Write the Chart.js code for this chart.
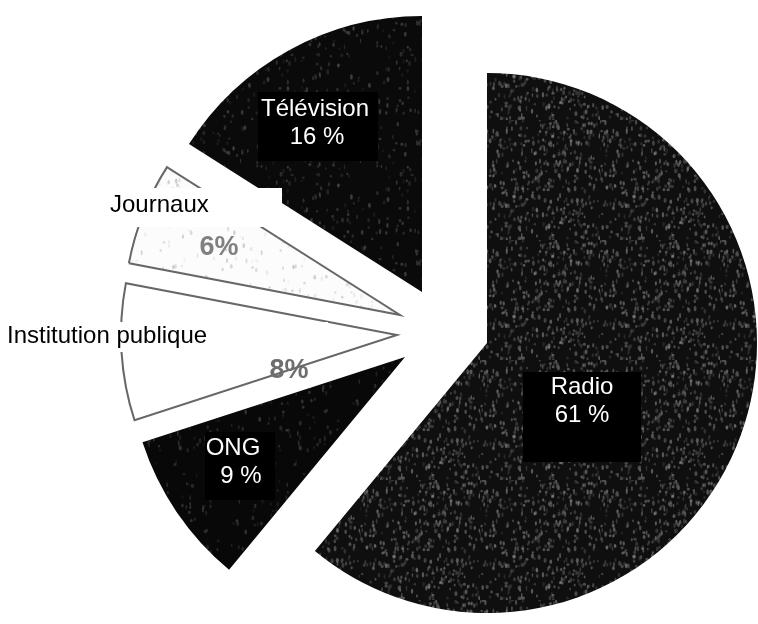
<!DOCTYPE html>
<html>
<head>
<meta charset="utf-8">
<script src="https://cdn.jsdelivr.net/npm/chart.js@4/dist/chart.umd.min.js"></script>
<style>
  html, body { margin: 0; padding: 0; background: #fff; }
  #wrap { width: 758px; height: 624px; }
</style>
</head>
<body>
<div id="wrap"><canvas id="myChart" width="758" height="624"></canvas></div>
<script>
// shares of each information source, clockwise from 12 o'clock
const categories = ["Radio", "ONG", "Institution publique", "Journaux", "Télévision"];
const shares = [61, 9, 8, 6, 16];

const ctx = document.getElementById("myChart");
const FONT = "'Liberation Sans', Arial, sans-serif";

// soft speckled fill so the slices look like the printed halftone
function grain(base, dot, count, seed, alphaMin, alphaMax) {
  const c = document.createElement("canvas");
  c.width = c.height = 120;
  const g = c.getContext("2d");
  g.fillStyle = base;
  g.fillRect(0, 0, 120, 120);
  g.filter = "blur(0.7px)";
  let s = seed;
  const next = () => (s = (s * 16807) % 2147483647) / 2147483647;
  for (let k = 0; k < count; k++) {
    const x = next() * 120;
    const y = next() * 120;
    const a = alphaMin + next() * (alphaMax - alphaMin);
    g.fillStyle = `rgba(${dot},${a.toFixed(2)})`;
    g.beginPath();
    g.ellipse(x, y, 0.8 + next() * 0.8, 1.2 + next() * 1.6, 0, 0, Math.PI * 2);
    g.fill();
  }
  return g.createPattern(c, "repeat");
}

const fills = [
  grain("#0f0f0f", "150,150,150", 480, 11, 0.15, 0.55),
  grain("#080808", "130,130,130", 140, 29, 0.1, 0.35),
  "#ffffff",
  grain("#fcfcfc", "120,120,120", 120, 53, 0.06, 0.35),
  grain("#0a0a0a", "130,130,130", 180, 71, 0.1, 0.4),
];
const borders = ["#0f0f0f", "#080808", "#676767", "#676767", "#0a0a0a"];
const borderWidths = [0, 0, 2, 2, 0];

// pull every slice but Radio out to the left, a touch larger
const explode = {
  id: "explode",
  afterDatasetsUpdate(chart, args, opts) {
    chart.getDatasetMeta(0).data.forEach((arc, i) => {
      const s = opts.shifts[i] || [0, 0];
      arc.x += s[0];
      arc.y += s[1];
      arc.outerRadius += opts.grow[i] || 0;
    });
  },
};

// label boxes drawn over the pie
const tags = {
  id: "tags",
  afterDatasetsDraw(chart, args, opts) {
    const c = chart.ctx;
    c.save();
    c.textBaseline = "middle";
    opts.boxes.forEach((b) => {
      if (b.rect) {
        c.fillStyle = b.bg;
        c.fillRect(b.rect[0], b.rect[1], b.rect[2], b.rect[3]);
      }
      c.fillStyle = b.color;
      c.font = b.font;
      c.textAlign = b.align;
      b.lines(b.i).forEach((txt, k) => {
        c.fillText(txt, b.at[k][0], b.at[k][1]);
      });
    });
    c.restore();
  },
};

const nameShare = (i) => [categories[i], shares[i] + " %"];
const nameOnly = (i) => [categories[i]];
const shareOnly = (i) => [shares[i] + "%"];

new Chart(ctx, {
  type: "pie",
  data: {
    labels: categories,
    datasets: [
      {
        data: shares,
        backgroundColor: fills,
        borderColor: borders,
        borderWidth: borderWidths,
        borderJoinStyle: "miter",
      },
    ],
  },
  options: {
    responsive: false,
    animation: false,
    events: [],
    radius: 270,
    layout: { padding: { left: 216, right: 0, top: 62, bottom: 0 } },
    plugins: {
      legend: { display: false },
      tooltip: { enabled: false },
      explode: {
        shifts: [[0, 0], [-82, 14], [-90, -8], [-87, -28], [-65, -51]],
        grow: [0, 6, 6, 6, 6],
      },
      tags: {
        boxes: [
          { i: 0, bg: "#000", color: "#fff", font: "24px " + FONT, align: "center",
            rect: [523, 372, 118, 90], at: [[582, 387], [582, 415]], lines: nameShare },
          { i: 4, bg: "#000", color: "#fff", font: "24px " + FONT, align: "center",
            rect: [258, 92, 120, 69], at: [[315, 109], [317, 137]], lines: nameShare },
          { i: 1, bg: "#000", color: "#fff", font: "24px " + FONT, align: "center",
            rect: [205, 432, 70, 68], at: [[233, 448], [241, 476]], lines: nameShare },
          { i: 3, bg: "#fff", color: "#000", font: "24px " + FONT, align: "left",
            rect: [100, 188, 182, 39], at: [[110, 205]], lines: nameOnly },
          { i: 2, bg: "#fff", color: "#000", font: "24px " + FONT, align: "left",
            rect: [0, 322, 328, 30], at: [[7, 336]], lines: nameOnly },
          { i: 3, color: "#808080", font: "bold 27px " + FONT, align: "center",
            at: [[219, 248]], lines: shareOnly },
          { i: 2, color: "#6e6e6e", font: "bold 27px " + FONT, align: "center",
            at: [[289, 371]], lines: shareOnly },
        ],
      },
    },
  },
  plugins: [explode, tags],
});
</script>
</body>
</html>
